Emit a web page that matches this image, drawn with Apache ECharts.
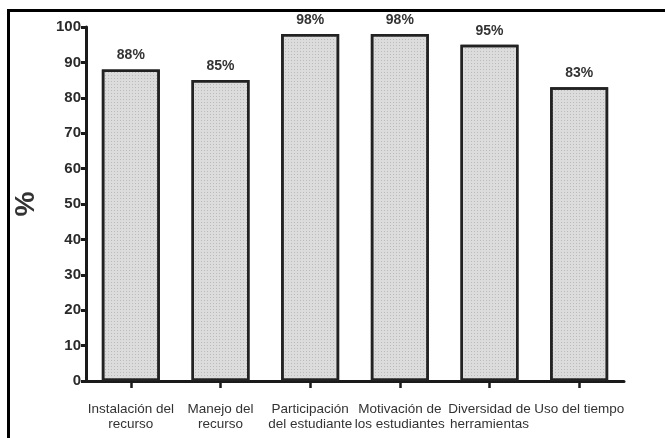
<!DOCTYPE html>
<html>
<head>
<meta charset="utf-8">
<script src="https://cdn.jsdelivr.net/npm/echarts@6/dist/echarts.min.js"></script>
<style>
  html, body { margin: 0; padding: 0; background: #fff; }
  #chart { width: 665px; height: 438px; }
</style>
</head>
<body>
<div id="chart"></div>
<script>
// Categories and percentages
const categories = [
  'Instalación del\nrecurso',
  'Manejo del\nrecurso',
  'Participación\ndel estudiante',
  'Motivación de\nlos estudiantes',
  'Diversidad de\nherramientas',
  'Uso del tiempo'
];
const values = [88, 85, 98, 98, 95, 83];
const yTicks = { min: 0, max: 100, interval: 10 };

const chart = echarts.init(document.getElementById('chart'), null, { renderer: 'canvas' });

chart.setOption({
  animation: false,
  backgroundColor: '#ffffff',
  textStyle: { fontFamily: 'Liberation Sans, Arial, sans-serif' },
  graphic: [{
    type: 'rect',
    left: 6,
    top: 8,
    shape: { x: 0, y: 0, width: 720, height: 500 },
    style: { fill: 'none', stroke: '#000', lineWidth: 3 },
    silent: true
  }],
  grid: { left: 86, right: 41, top: 27, bottom: 57 },
  xAxis: {
    type: 'category',
    data: categories,
    boundaryGap: true,
    axisLine: { show: true, lineStyle: { color: '#1a1a1a', width: 3 } },
    axisTick: { show: true, alignWithLabel: true, length: 7, lineStyle: { color: '#1a1a1a', width: 2.5 } },
    axisLabel: {
      color: '#333',
      fontSize: 13.5,
      lineHeight: 15,
      margin: 21,
      interval: 0
    }
  },
  yAxis: {
    type: 'value',
    min: yTicks.min,
    max: yTicks.max,
    interval: yTicks.interval,
    name: '%',
    nameLocation: 'middle',
    nameRotate: 90,
    nameGap: 46,
    nameTextStyle: { fontSize: 28, fontWeight: 'bold', color: '#333' },
    axisLine: { show: true, lineStyle: { color: '#1a1a1a', width: 3 } },
    axisTick: { show: true, length: 5, lineStyle: { color: '#1a1a1a', width: 3 } },
    axisLabel: { color: '#2a2a2a', fontSize: 15, fontWeight: 'bold', margin: 5 },
    splitLine: { show: false }
  },
  series: [{
    type: 'bar',
    data: values,
    barWidth: 58,
    itemStyle: {
      color: '#dcdcdc',
      borderColor: '#222',
      borderWidth: 2.5,
      decal: {
        symbol: 'rect',
        symbolSize: 1,
        dashArrayX: [1, 2],
        dashArrayY: [1, 2],
        color: 'rgba(160,160,160,0.55)',
        rotation: 0
      }
    },
    label: {
      show: true,
      position: 'top',
      distance: 7,
      formatter: '{c}%',
      color: '#333',
      fontSize: 14,
      fontWeight: 'bold'
    }
  }]
});
</script>
</body>
</html>
